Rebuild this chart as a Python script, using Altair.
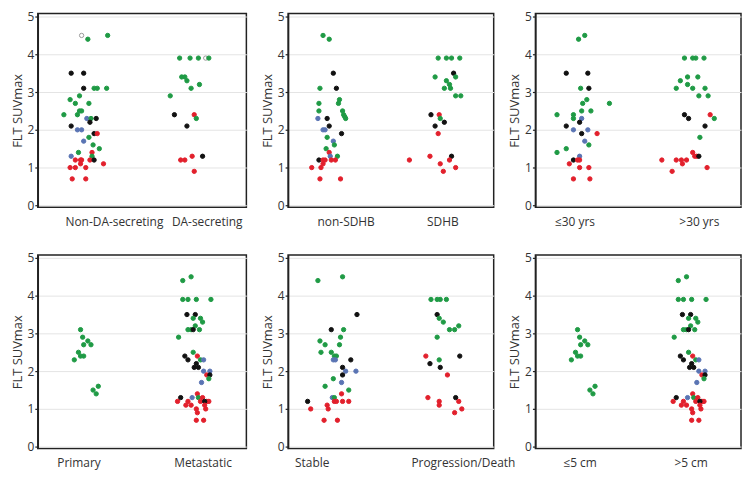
import altair as alt
import pandas as pd

# ---------------- data ----------------
# colour codes: G green, K black, B blue, R red, O open circle
p1_labels = ["Non-DA-secreting", "DA-secreting"]
p1_label_pos = [0.23, 1.12]
p1_y = [4.5, 4.4, 4.5, 3.5, 3.5, 3.1, 3.1, 3.1, 3.1, 2.8, 2.9, 2.7, 2.7, 2.4, 2.4, 2.5, 2.5,
        2.3, 2.3, 2.3, 2.2, 2.1, 2.0, 2.0, 1.9, 1.9, 1.7, 1.8, 1.6, 1.5, 1.4, 1.4, 1.3, 1.3,
        1.2, 1.2, 1.2, 1.2, 1.2, 1.1, 1.1, 1.0, 1.0, 1.0, 0.7, 0.7,
        3.9, 3.9, 3.9, 3.9, 3.9, 3.4, 3.4, 3.3, 3.2, 3.1, 2.9, 2.4, 2.4, 2.3, 2.1, 1.3, 1.3,
        1.2, 1.2, 0.9]
p1_x = [-0.08, -0.02, 0.17, -0.18, -0.06, -0.06, 0.04, 0.07, 0.16, -0.19, -0.10, -0.14, -0.01,
        -0.25, -0.12, -0.10, -0.08, -0.03, 0.01, 0.06, 0.0, -0.18, -0.12, -0.08, 0.04, 0.07,
        -0.06, -0.01, 0.03, 0.09, -0.11, 0.02, -0.18, 0.02, -0.14, -0.09, -0.08, 0.0, 0.04,
        -0.09, 0.13, -0.19, -0.14, -0.04, -0.17, -0.04,
        0.86, 0.96, 1.04, 1.11, 1.14, 0.88, 0.91, 0.93, 1.05, 0.97, 0.77, 0.81, 1.0, 1.02,
        0.93, 0.98, 1.08, 0.87, 0.91, 1.0]
p1_c = ("OGGKKKGGGGGGGGGGGBGKKKBBKRBGGGGRBGRRRRKRRRRRRR"
        "GGGOGGGGGGGKRGKRKRRR")

p2_labels = ["non-SDHB", "SDHB"]
p2_label_pos = [0.06, 1.0]
p2_y = [4.5, 4.4, 3.5, 3.1, 3.1, 2.8, 2.7, 2.7, 2.5, 2.5, 2.4, 2.35, 2.3, 2.3, 2.3, 2.1, 2.0,
        2.0, 1.8, 1.9, 1.7, 1.6, 1.5, 1.4, 1.3, 1.3, 1.2, 1.2, 1.2, 1.2, 1.2, 1.1, 1.0, 1.0,
        0.7, 0.7,
        3.9, 3.9, 3.9, 3.9, 3.5, 3.4, 3.4, 3.3, 3.2, 3.1, 3.1, 2.9, 2.9, 2.4, 2.4, 2.3, 2.2,
        2.1, 1.9, 1.2, 1.3, 1.3, 1.2, 1.1, 1.0, 0.9]
p2_x = [-0.16, -0.10, -0.06, -0.03, -0.19, 0.0, -0.01, -0.20, -0.20, 0.03, 0.04, 0.05, 0.06,
        -0.21, -0.12, -0.10, -0.16, -0.14, -0.12, 0.02, -0.06, -0.05, -0.13, -0.10, -0.09,
        -0.02, -0.20, -0.16, -0.14, -0.08, -0.04, -0.16, -0.27, -0.18, -0.19, 0.01,
        0.96, 1.04, 1.09, 1.17, 1.11, 0.93, 1.13, 1.04, 1.07, 1.02, 1.08, 1.13, 1.18, 0.89,
        0.97, 0.98, 1.02, 0.93, 0.96, 0.68, 0.88, 1.09, 1.07, 0.98, 1.13, 1.01]
p2_c = ("GGKKGGGGGGGGGBKKBBGKBGGRBGK" "RRRRRRRRR"
        "GGGGKGGGGGGGG" "KRGKKRRRKRRRR")

p3_labels = ["\u226430 yrs", ">30 yrs"]
p3_label_pos = [-0.12, 1.09]
p3_y = [4.4, 4.5, 3.5, 3.5, 3.1, 3.1, 2.8, 2.7, 2.7, 2.4, 2.4, 2.3, 2.5, 2.5, 2.3, 2.2, 2.1,
        2.0, 2.0, 1.9, 1.9, 1.7, 1.6, 1.5, 1.4, 1.3, 1.2, 1.2, 1.2, 1.1, 1.0, 1.0, 0.7, 0.7,
        3.9, 3.9, 3.9, 3.9, 3.4, 3.4, 3.3, 3.2, 3.1, 3.1, 3.1, 2.9, 2.9, 2.4, 2.3, 2.4, 2.3,
        2.1, 1.8, 1.4, 1.3, 1.3, 1.3, 1.2, 1.2, 1.2, 1.2, 1.1, 1.0, 0.9]
p3_x = [-0.08, -0.02, -0.20, 0.01, -0.06, 0.02, 0.0, -0.04, 0.22, -0.29, -0.13, -0.13, -0.05,
        0.04, -0.05, -0.07, -0.20, -0.13, 0.01, -0.05, 0.10, -0.02, 0.02, -0.20, -0.29,
        -0.07, -0.13, -0.09, -0.07, -0.17, -0.07, 0.02, -0.13, 0.03,
        0.95, 1.03, 1.06, 1.14, 0.98, 1.08, 0.91, 0.98, 0.87, 1.03, 1.15, 1.09, 1.18, 0.95,
        0.99, 1.20, 1.24, 1.15, 1.10, 1.03, 1.05, 1.07, 1.09, 0.73, 0.87, 0.92, 0.97, 0.93,
        1.17, 0.83]
p3_c = ("GGKKGK" "GGGGGGGG" "BKKBBKRBGGGBK" "RRRRRRR"
        "GGGGGGGGGGGGG" "KKRGKG" "RRRK" "RRRRRRR")

p4_labels = ["Primary", "Metastatic"]
p4_label_pos = [-0.11, 1.08]
p4_y = [3.1, 2.9, 2.8, 2.7, 2.7, 2.5, 2.4, 2.4, 2.3, 1.6, 1.5, 1.4,
        4.4, 4.5, 3.9, 3.9, 3.9, 3.9, 3.5, 3.5, 3.4, 3.4, 3.3, 3.2, 3.1, 3.1, 3.1, 3.1, 2.9,
        2.5, 2.4, 2.4, 2.3, 2.3, 2.3, 2.2, 2.1, 2.1, 2.0, 2.0, 1.9, 1.9, 1.8, 1.7, 1.3, 1.3,
        1.4, 1.3, 1.3, 1.2, 1.2, 1.2, 1.2, 1.2, 1.2, 1.1, 1.1, 1.1, 1.0, 1.0, 0.9, 0.7, 0.7]
p4_x = [-0.09, -0.07, -0.02, -0.06, 0.01, -0.11, -0.09, -0.06, -0.15, 0.08, 0.03, 0.06,
        0.89, 0.97, 0.89, 0.94, 1.02, 1.16, 0.93, 1.01, 0.99, 1.06, 1.08, 1.01, 0.94, 0.97,
        1.05, 0.99, 0.85, 0.99, 0.91, 1.03, 0.94, 1.06, 1.09, 1.02, 1.0, 1.04, 1.09, 1.15,
        1.12, 1.15, 1.14, 1.07, 0.87, 0.98, 1.03, 1.04, 1.08, 0.84, 0.94, 1.06, 1.12, 1.14,
        1.10, 0.92, 0.97, 1.10, 1.02, 1.11, 1.03, 1.02, 1.09]
p4_c = ("GGGGGGGGGGGG"
        "GGGGGG" "KK" "GGGGGGG" "K" "GG" "KRKGB" "KKK" "BB" "RKGB" "KBRGR" "RRRRR" "K"
        "RRRRRRRR")

p5_labels = ["Stable", "Progression/Death"]
p5_label_pos = [-0.27, 1.2]
p5_y = [4.4, 4.5, 3.5, 3.1, 3.1, 2.9, 2.8, 2.7, 2.7, 2.5, 2.5, 2.4, 2.4, 2.3, 2.3, 2.3, 2.1,
        2.0, 2.0, 1.9, 1.8, 1.7, 1.6, 1.5, 1.4, 1.3, 1.3, 1.2, 1.2, 1.2, 1.2, 1.2, 1.1, 1.0,
        1.0, 0.7, 0.7,
        3.9, 3.9, 3.9, 3.9, 3.5, 3.4, 3.3, 3.1, 3.1, 3.2, 2.9, 2.4, 2.4, 2.3, 2.2, 2.1, 1.9,
        1.3, 1.3, 1.2, 1.1, 1.2, 0.9, 1.0]
p5_x = [-0.21, 0.03, 0.17, -0.08, 0.04, 0.01, -0.19, -0.14, 0.0, -0.18, -0.08, -0.05, -0.03,
        -0.06, -0.04, 0.11, 0.03, 0.06, 0.16, 0.03, -0.06, 0.02, -0.14, 0.09, 0.02, -0.07,
        -0.05, -0.31, -0.05, -0.03, 0.03, 0.09, -0.12, -0.28, -0.11, -0.15, -0.02,
        0.89, 0.95, 0.98, 1.04, 0.95, 0.97, 1.01, 1.07, 1.12, 1.16, 0.95, 0.84, 1.17, 0.97,
        0.88, 0.98, 1.05, 0.86, 1.13, 0.97, 0.97, 1.16, 1.12, 1.19]
p5_c = ("GGKKGGGGGGGGG" "BBKKBBKGBGGRBGK" "RRRRRRRRR"
        "GGGGKGGGGGG" "RKGKKR" "RK" "RRRRR")

p6_labels = ["\u22645 cm", ">5 cm"]
p6_label_pos = [-0.07, 1.01]
p6_y = p4_y
p6_x = p4_x
p6_c = p4_c

CODES = ["G", "K", "B", "R", "O"]
FILLS = ["#1f9a45", "#111111", "#5a74b3", "#e2202c", "#ffffff"]
STROKES = ["#1f9a45", "#111111", "#5a74b3", "#e2202c", "#9a9a9a"]

FONT = "Open Sans"
TEXT = "#333333"


def panel(xs, ys, cs, labels, label_pos, width):
    df = pd.DataFrame({"x": xs, "y": ys, "c": list(cs)})
    expr = "datum.value < 0.5 ? '%s' : '%s'" % (labels[0], labels[1])
    return alt.Chart(df).mark_circle(opacity=1, size=19, strokeWidth=1).encode(
        x=alt.X("x:Q",
                scale=alt.Scale(domain=[-0.5, 1.5], nice=False, zero=False),
                axis=alt.Axis(values=label_pos, labelExpr=expr, title="", domain=False,
                              ticks=False, grid=False, labelPadding=9, labelFontSize=12,
                              labelFlush=False, labelOverlap=False)),
        y=alt.Y("y:Q",
                scale=alt.Scale(domain=[-0.05, 5.08], nice=False, zero=False),
                axis=alt.Axis(values=[0, 1, 2, 3, 4, 5], format="d", title="FLT SUVmax",
                              grid=True, gridColor="#e4e4e4", gridWidth=1,
                              domainColor="#222222", domainWidth=1.5,
                              tickColor="#222222", tickSize=3, tickWidth=1.2,
                              labelPadding=1, labelFontSize=12, titleFontSize=13,
                              titlePadding=3)),
        fill=alt.Fill("c:N", scale=alt.Scale(domain=CODES, range=FILLS), legend=None),
        stroke=alt.Stroke("c:N", scale=alt.Scale(domain=CODES, range=STROKES), legend=None),
    ).properties(width=width, height=195)


c1 = panel(p1_x, p1_y, p1_c, p1_labels, p1_label_pos, 210)
c2 = panel(p2_x, p2_y, p2_c, p2_labels, p2_label_pos, 207)
c3 = panel(p3_x, p3_y, p3_c, p3_labels, p3_label_pos, 207)
c4 = panel(p4_x, p4_y, p4_c, p4_labels, p4_label_pos, 210)
c5 = panel(p5_x, p5_y, p5_c, p5_labels, p5_label_pos, 207)
c6 = panel(p6_x, p6_y, p6_c, p6_labels, p6_label_pos, 207)

chart = alt.concat(
    c1, c2, c3, c4, c5, c6, columns=3,
    spacing={"row": 48, "column": 42}, bounds="flush"
).properties(
    padding={"left": 2, "top": 0, "right": 0, "bottom": 0}, background="white"
).configure_view(
    stroke="#222222", strokeWidth=1.5
).configure_axis(
    labelFont=FONT, titleFont=FONT, labelColor=TEXT, titleColor=TEXT,
    titleFontWeight="normal"
)

chart.save("out.html", embed_options={"renderer": "svg", "actions": False})
